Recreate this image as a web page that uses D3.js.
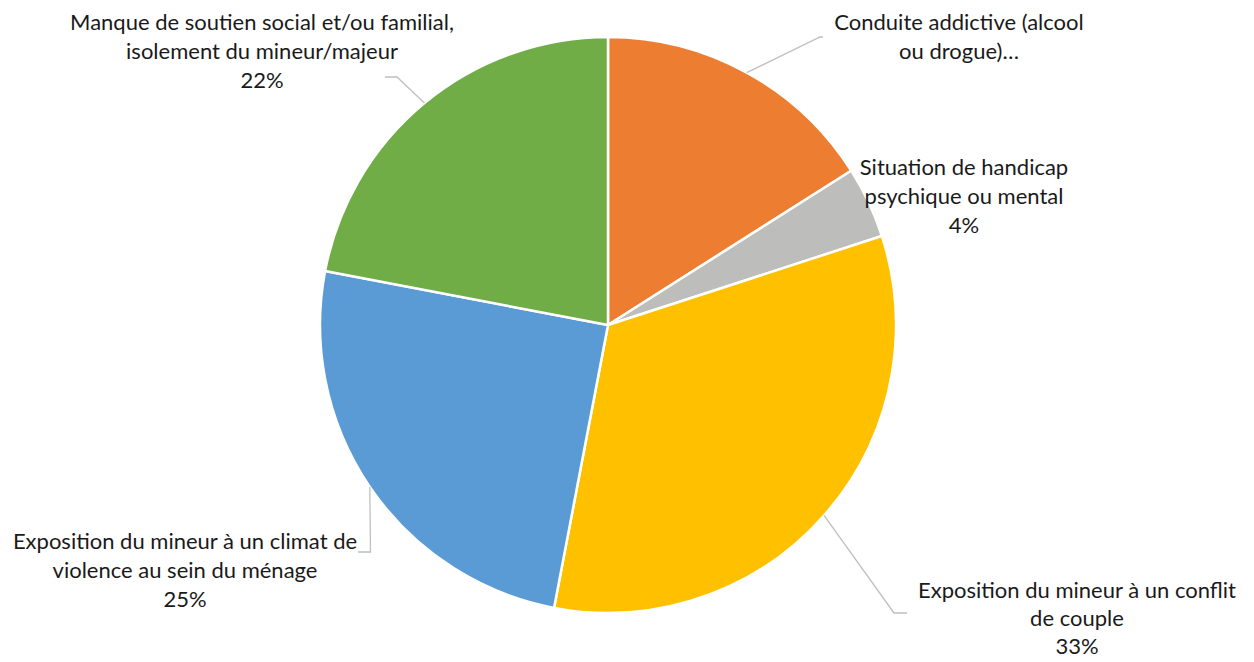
<!DOCTYPE html>
<html>
<head>
<meta charset="utf-8">
<script src="https://cdn.jsdelivr.net/npm/d3@7"></script>
<style>
  body { margin: 0; background: #fff; }
  svg { display: block; }
  text { font-family: Lato, "Noto Sans", sans-serif; font-size: 22px; fill: #1a1a1a; }
</style>
</head>
<body>
<svg width="1254" height="662"></svg>
<script>
// categories, clockwise from 12 o'clock
const categories = [
  'Conduite addictive (alcool ou drogue)…',
  'Situation de handicap psychique ou mental',
  'Exposition du mineur à un conflit de couple',
  'Exposition du mineur à un climat de violence au sein du ménage',
  'Manque de soutien social et/ou familial, isolement du mineur/majeur'
];
const values = [16, 4, 33, 25, 22];
// label lines as they wrap in the picture (percent added below, except the truncated one)
const labelLines = [
  ['Conduite addictive (alcool', 'ou drogue)…'],
  ['Situation de handicap', 'psychique ou mental'],
  ['Exposition du mineur à un conflit', 'de couple'],
  ['Exposition du mineur à un climat de', 'violence au sein du ménage'],
  ['Manque de soutien social et/ou familial,', 'isolement du mineur/majeur']
];
const showPercent = [false, true, true, true, true];
const colors = ['#ED7D31', '#BDBDBB', '#FFC000', '#5B9BD5', '#70AD47'];

// layout: label centre x / first baseline, leader elbow + end (null = no leader)
const labelPos = [
  { x: 959, y: 30, elbow: [820, 37], end: [823, 37] },
  { x: 964, y: 175, elbow: null },
  { x: 1077, y: 598, elbow: [894, 613], end: [907, 613] },
  { x: 185, y: 549, elbow: [370.5, 552], end: [358, 552] },
  { x: 262, y: 30, elbow: [397, 77], end: [385, 77] }
];

const cx = 608, cy = 325, r = 288;

const svg = d3.select('svg');
const g = svg.append('g').attr('transform', 'translate(' + cx + ',' + cy + ')');

const data = categories.map((c, i) => ({ cat: c, value: values[i], i: i }));
const pie = d3.pie().sort(null).value(d => d.value);
const arcs = pie(data);
const arc = d3.arc().innerRadius(0).outerRadius(r);
const total = d3.sum(values);

g.selectAll('path.slice')
  .data(arcs)
  .enter()
  .append('path')
  .attr('class', 'slice')
  .attr('d', arc)
  .attr('fill', d => colors[d.data.i])
  .attr('stroke', '#fff')
  .attr('stroke-width', 2.5)
  .attr('stroke-linejoin', 'round');

// leader lines from the middle of each slice's rim
arcs.forEach((a) => {
  const p = labelPos[a.data.i];
  if (!p.elbow) return;
  const mid = (a.startAngle + a.endAngle) / 2;
  const start = [cx + r * Math.sin(mid), cy - r * Math.cos(mid)];
  svg.append('polyline')
    .attr('points', [start, p.elbow, p.end].map(q => q.join(',')).join(' '))
    .attr('fill', 'none')
    .attr('stroke', '#BFBFBF')
    .attr('stroke-width', 1.3);
});

// labels (the bottom one is a bit tighter so it stays inside the frame)
arcs.forEach((a) => {
  const i = a.data.i;
  const p = labelPos[i];
  const lineH = i === 2 ? 28 : 29;
  const lines = labelLines[i].slice();
  if (showPercent[i]) lines.push(d3.format('.0%')(a.data.value / total));
  const t = svg.append('text').attr('text-anchor', 'middle');
  lines.forEach((l, k) => {
    t.append('tspan').attr('x', p.x).attr('y', p.y + k * lineH).text(l);
  });
});
</script>
</body>
</html>
